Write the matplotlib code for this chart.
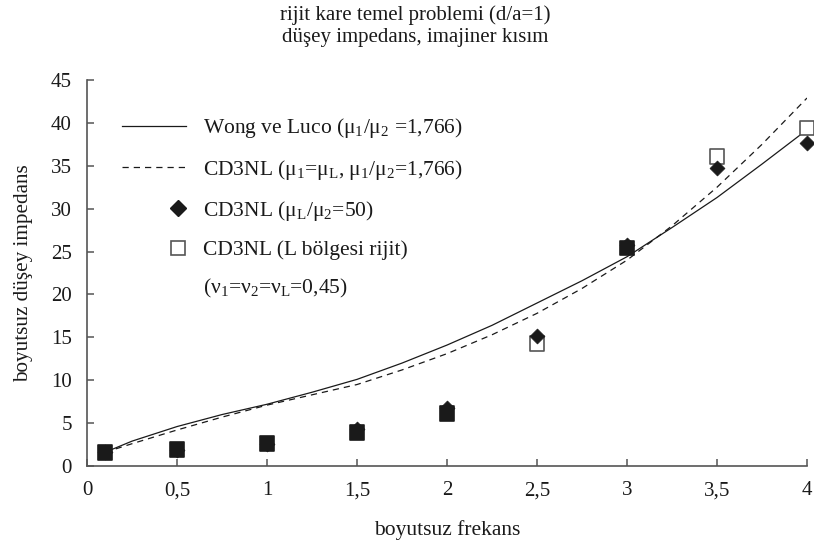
import numpy as np
import matplotlib
matplotlib.use("Agg")
from matplotlib import pyplot as plt
from matplotlib.lines import Line2D
from matplotlib.legend_handler import HandlerLine2D

plt.rcParams['font.family'] = ['Liberation Serif', 'DejaVu Serif']
plt.rcParams['mathtext.fontset'] = 'custom'
plt.rcParams['mathtext.rm'] = 'Liberation Serif'
plt.rcParams['mathtext.it'] = 'Liberation Serif:italic'

# curves
x_curve = [0.1, 0.25, 0.5, 0.75, 1.0, 1.25, 1.5, 1.75, 2.0, 2.25, 2.5, 2.75, 3.0, 3.25, 3.5, 3.75, 4.0]
wong = [1.6, 2.9, 4.6, 6.0, 7.2, 8.6, 10.1, 12.0, 14.1, 16.4, 19.0, 21.6, 24.4, 27.8, 31.3, 35.2, 39.2]
cd3nl = [1.6, 2.6, 4.2, 5.7, 7.1, 8.3, 9.5, 11.2, 13.1, 15.3, 17.8, 20.7, 24.0, 28.0, 32.5, 37.5, 42.9]

# point series
x_pts = [0.1, 0.5, 1.0, 1.5, 2.0, 2.5, 3.0, 3.5, 4.0]
diamond = [1.6, 1.9, 2.6, 4.35, 6.8, 15.2, 25.8, 34.8, 37.7]
square = [1.6, 1.9, 2.6, 3.9, 6.1, 14.3, 25.4, 36.1, 39.4]

xticks = [0, 0.5, 1, 1.5, 2, 2.5, 3, 3.5, 4]
xtick_labels = ['0', '0,5', '1', '1,5', '2', '2,5', '3', '3,5', '4']
yticks = [0, 5, 10, 15, 20, 25, 30, 35, 40, 45]

labels = ['Wong ve Luco (μ$_1$/μ$_2$ =1,766)',
          'CD3NL (μ$_1$=μ$_\\mathrm{L}$, μ$_1$/μ$_2$=1,766)',
          'CD3NL (μ$_\\mathrm{L}$/μ$_2$=50)',
          'CD3NL (L bölgesi rijit)',
          '(ν$_1$=ν$_2$=ν$_\\mathrm{L}$=0,45)']

txt = '#1a1a1a'
axc = '#555555'


class RightMarker(HandlerLine2D):
    # put the single marker near the right end of the handle
    def get_xdata(self, legend, xdescent, ydescent, width, height, fontsize):
        if self._numpoints == 1 and width > 0:
            x = np.array([-xdescent + 0.87 * width])
            return x, x
        return super().get_xdata(legend, xdescent, ydescent, width, height, fontsize)


fig = plt.figure(figsize=(8.14, 5.48), dpi=100)
ax = fig.add_axes([0.1069, 0.1496, 0.8845, 0.7044])

ax.plot(x_curve, wong, color=txt, lw=0.9)
ax.plot(x_curve, cd3nl, color=txt, lw=0.9, linestyle=(0, (5, 4)))

# squares hidden under the diamonds look solid black in the original
face = [txt] * 5 + ['white', txt, 'white', 'white']
edge = [txt] * 5 + [axc, txt, axc, axc]
ax.scatter(x_pts, square, marker='s', s=10.5 ** 2, c=face, edgecolors=edge,
           linewidths=1.2, zorder=3, clip_on=False)
ax.scatter(x_pts, diamond, marker='D', s=7.6 ** 2, c=txt,
           edgecolors=txt, linewidths=0.5, zorder=4, clip_on=False)

ax.set_xlim(0, 4)
ax.set_ylim(0, 45)
ax.set_xticks(xticks)
ax.set_xticklabels(xtick_labels)
ax.set_yticks(yticks)
for s in ['top', 'right']:
    ax.spines[s].set_visible(False)
for s in ['left', 'bottom']:
    ax.spines[s].set_color(axc)
    ax.spines[s].set_linewidth(1.2)
ax.tick_params(direction='in', length=5, width=1.1, color=axc,
               labelsize=15, labelcolor=txt, pad=11)

ax.set_xlabel('boyutsuz frekans', fontsize=15.5, color=txt, labelpad=14)
ax.set_ylabel('boyutsuz düşey impedans', fontsize=15.2, color=txt, labelpad=13)

fig.text(0.51, 0.973, 'rijit kare temel problemi (d/a=1)', ha='center', va='center',
         fontsize=15, color=txt)
fig.text(0.51, 0.931, 'düşey impedans, imajiner kısım', ha='center', va='center',
         fontsize=15, color=txt)

handles = [Line2D([], [], color=txt, lw=0.9),
           Line2D([], [], color=txt, lw=0.9, linestyle=(0, (5, 4))),
           Line2D([], [], ls='none', marker='D', ms=8.0, color=txt),
           Line2D([], [], ls='none', marker='s', ms=10.5, mfc='white', mec=axc, mew=1.2),
           Line2D([], [], ls='none')]
hm = {h: RightMarker(numpoints=1) for h in handles[2:]}
leg = ax.legend(handles, labels, loc='upper left', bbox_to_anchor=(0.036, 0.928),
                frameon=False, fontsize=15.5, handlelength=3.0, handletextpad=0.8,
                labelspacing=0.8, borderaxespad=0, handler_map=hm)
for t in leg.get_texts():
    t.set_color(txt)

fig.savefig('out.png', dpi=100)
